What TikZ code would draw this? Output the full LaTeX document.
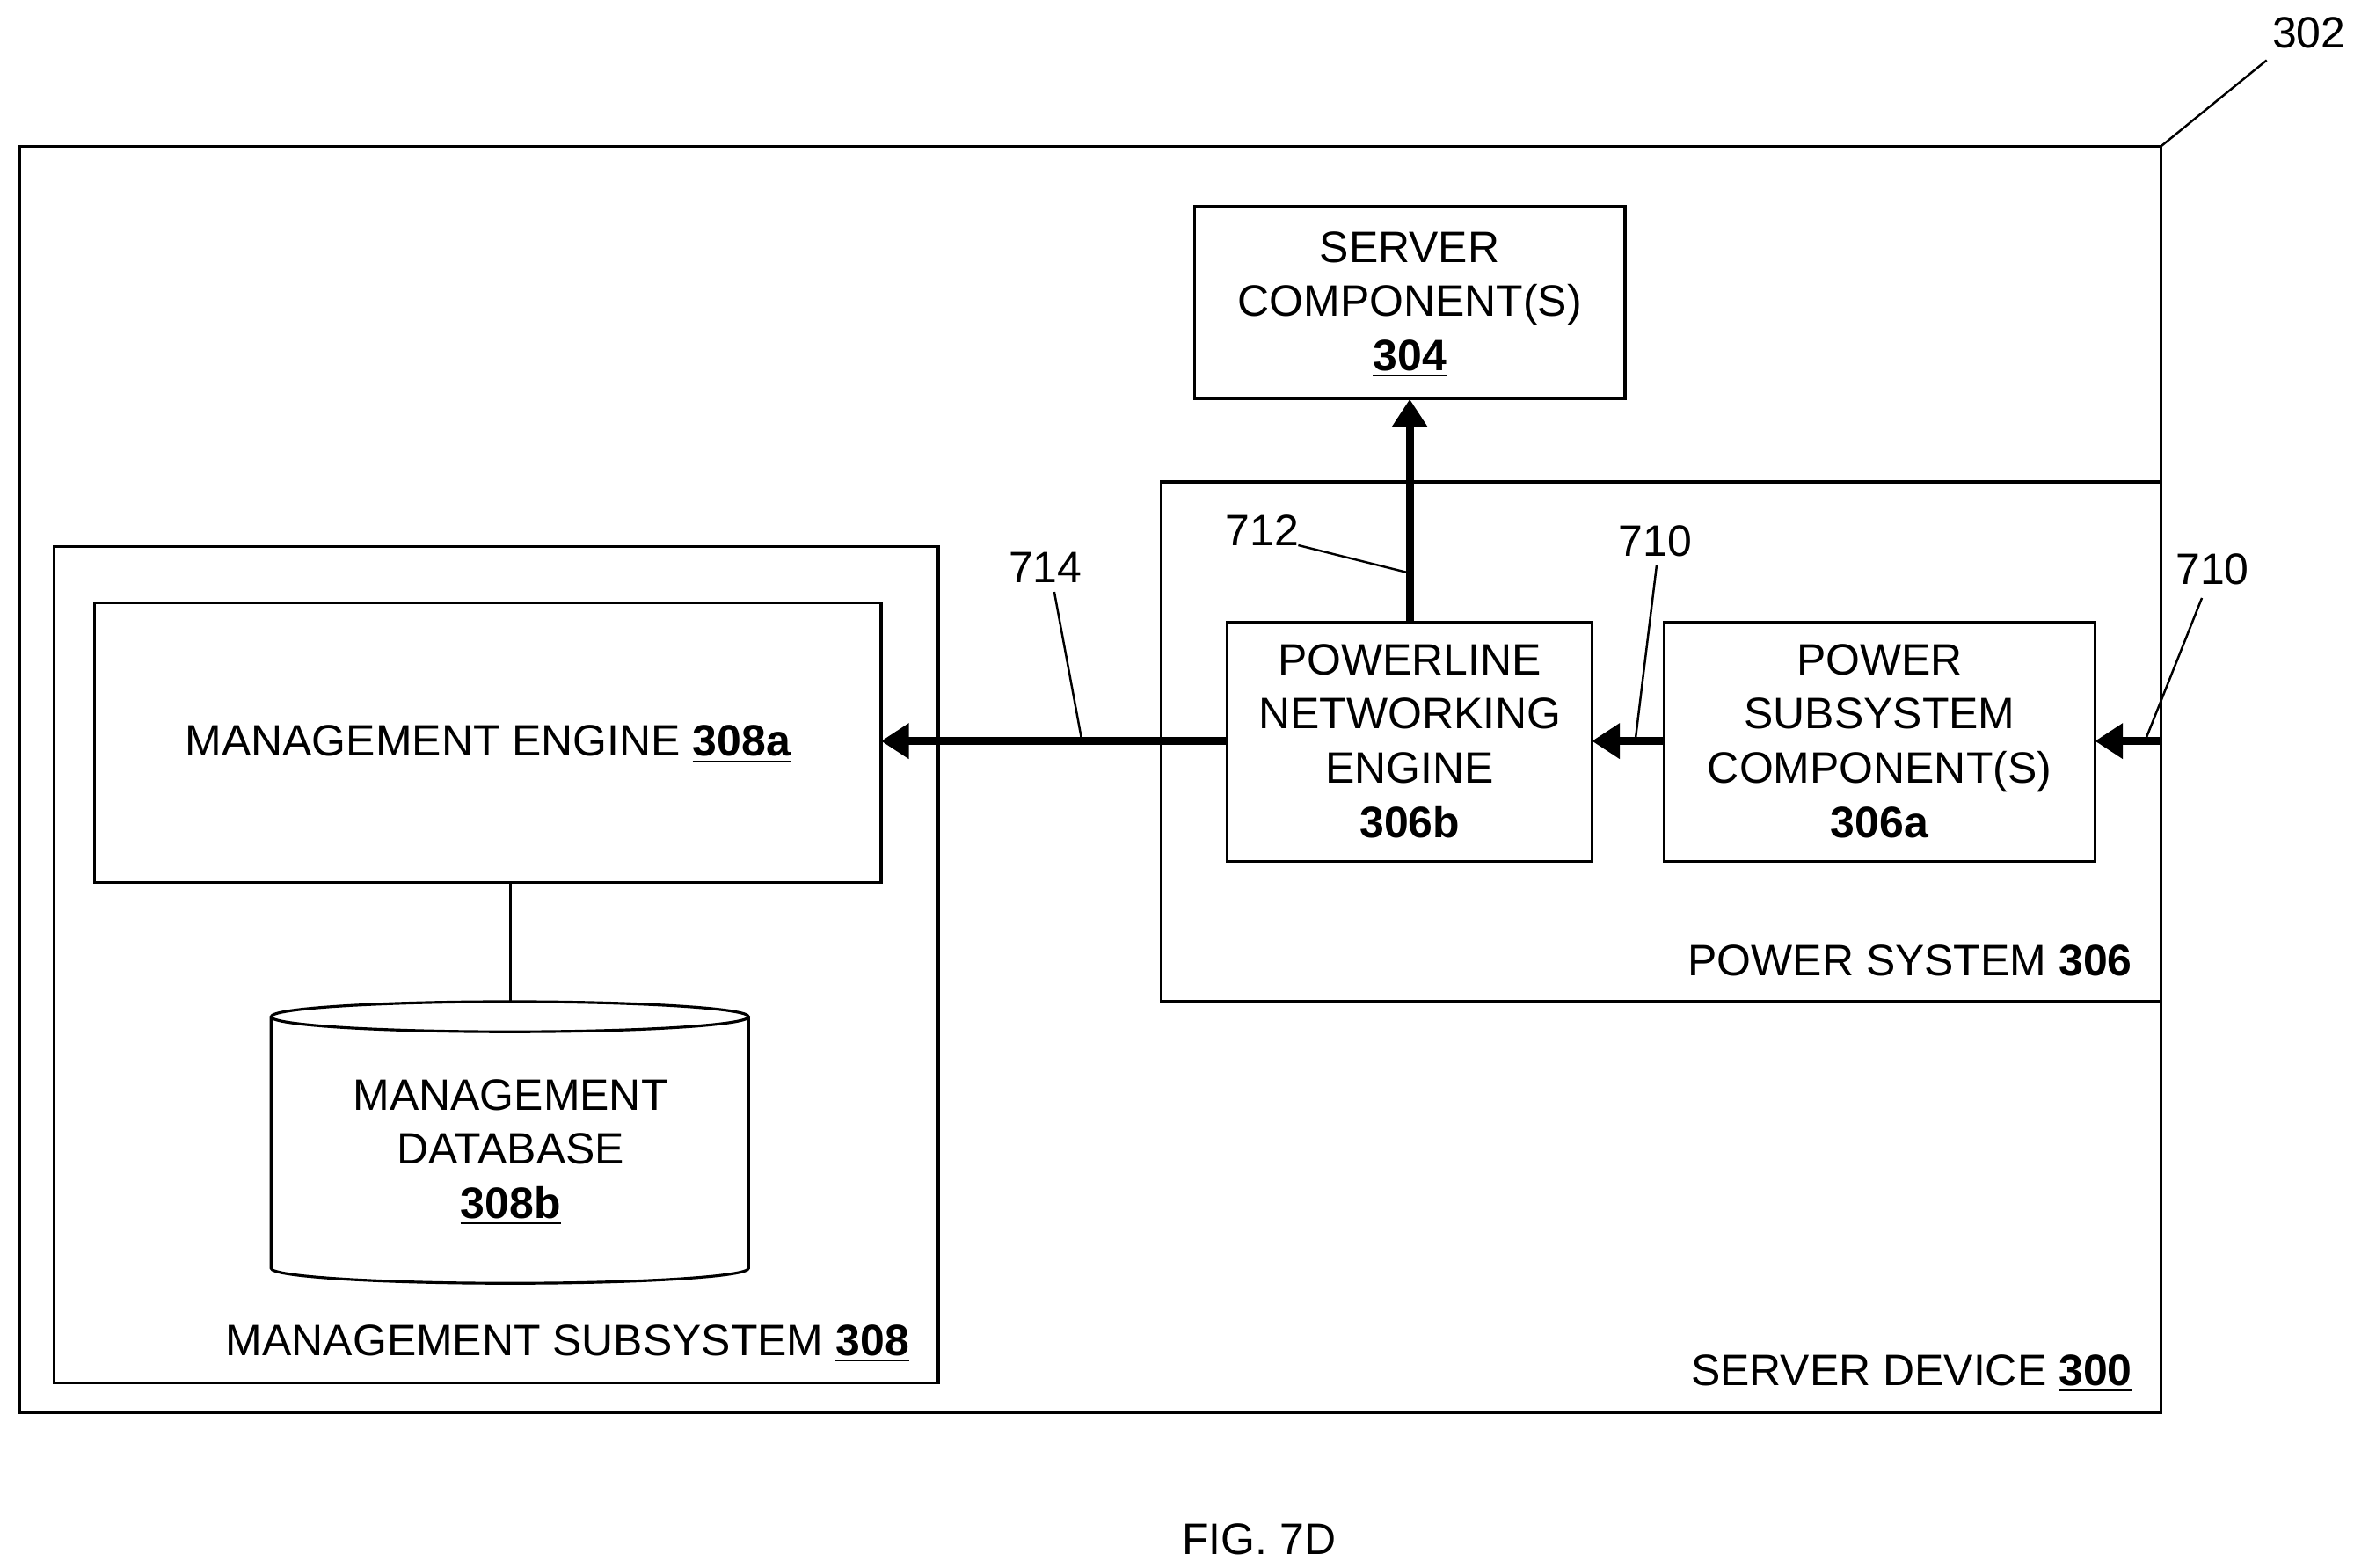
\documentclass[tikz,border=0pt]{standalone}
\usepackage{fontspec}
\setmainfont{Liberation Sans}
\usetikzlibrary{arrows.meta}
\newcommand{\num}[1]{\underline{\textbf{#1}}}
\tikzset{%
    box/.style={draw, line width=0.9pt, inner sep=0pt, outer sep=0pt, anchor=north west},
    txt/.style={align=center, font=\fontsize{14.2}{17.5}\selectfont, inner sep=0pt},
    pria/.style={line width=2.6pt, -{Triangle[length=9pt, width=11pt]}},
    sec/.style={line width=0.7pt},
}
\begin{document}
\begin{tikzpicture}[x=0.017127cm, y=-0.017127cm]
    \useasboundingbox (0,0) rectangle (1563,1041);
    % frames
    \draw [line width=0.9pt] (13,97) rectangle (1435,938);
    \draw [line width=0.9pt] (771,320) rectangle (1435,665);
    \draw [line width=0.9pt] (36,363) rectangle (623,918);
    \node (srv) [box, minimum width=286*0.017127cm, minimum height=128*0.017127cm] at (793,137) {};
    \node (ple) [box, minimum width=242*0.017127cm, minimum height=159*0.017127cm] at (815,413) {};
    \node (psc) [box, minimum width=286*0.017127cm, minimum height=159*0.017127cm] at (1105,413) {};
    \node (me) [box, minimum width=522*0.017127cm, minimum height=186*0.017127cm] at (63,400) {};
    % database cylinder
    \draw [line width=0.9pt] (180,675) -- (180,842) arc[start angle=180, end angle=0, x radius=158.5, y radius=10] -- (497,675);
    \draw [line width=0.9pt] (338.5,675) ellipse[x radius=158.5, y radius=10];
    \coordinate (dbtop) at (339,665);
    \draw [sec] (me.south -| dbtop) -- (dbtop);
    % texts
    \node [txt] at (936,202) {SERVER\\COMPONENT(S)\\\num{304}};
    \node [txt] at (936,494) {POWERLINE\\NETWORKING\\ENGINE\\\num{306b}};
    \node [txt] at (1248,494) {POWER\\SUBSYSTEM\\COMPONENT(S)\\\num{306a}};
    \node [txt] at (324,494) {MANAGEMENT ENGINE \num{308a}};
    \node [txt] at (339,765) {MANAGEMENT\\DATABASE\\\num{308b}};
    \node [txt, anchor=east] at (1416,640) {POWER SYSTEM \num{306}};
    \node [txt, anchor=east] at (604,892) {MANAGEMENT SUBSYSTEM \num{308}};
    \node [txt, anchor=east] at (1416,912) {SERVER DEVICE \num{300}};
    \node [txt] at (836,1022) {FIG. 7D};
    % arrows
    \coordinate (in) at (1435,492);
    \draw [pria] (in) -- (psc.east |- in);
    \draw [pria] (psc.west |- in) -- (ple.east |- in);
    \draw [pria] (ple.west |- in) -- (me.east |- in);
    \draw [pria] (ple.north) -- (srv.south);
    % reference labels
    \node (l302) [txt] at (1533,22) {302};
    \draw [sec] (1435,97) -- (1505,40);
    \node (l712) [txt] at (838,352) {712};
    \draw [sec] (862,362) -- (934,380);
    \node (l710a) [txt] at (1099,359) {710};
    \draw [sec] (1100,375) -- (1086,490);
    \node (l714) [txt] at (694,377) {714};
    \draw [sec] (700,393) -- (718,490);
    \node (l710b) [txt] at (1469,378) {710};
    \draw [sec] (1462,397) -- (1425,490);
\end{tikzpicture}
\end{document}
